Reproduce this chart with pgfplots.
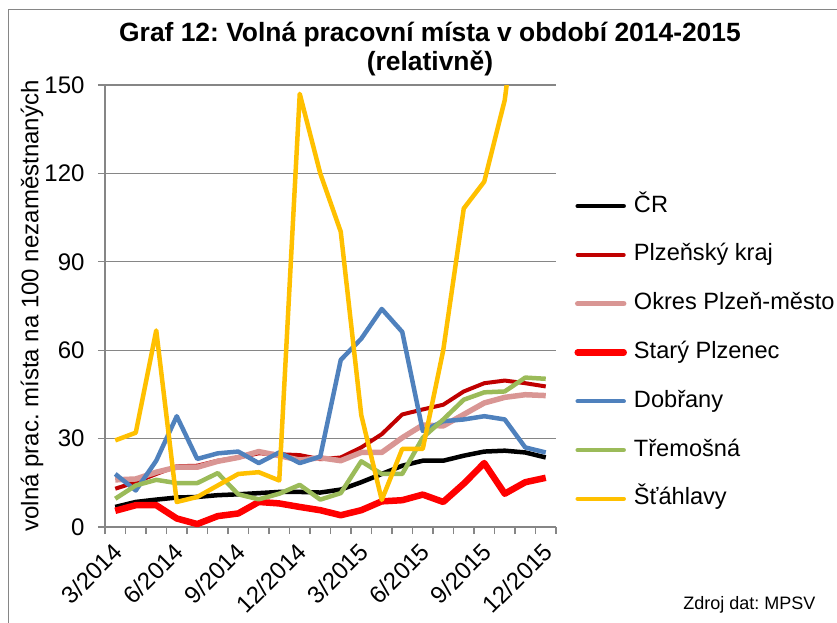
\documentclass[border=0pt]{standalone}
\usepackage{pgfplots}
\pgfplotsset{compat=1.18}
\usepackage{fontspec}
\setmainfont{Liberation Sans}
\frenchspacing
\definecolor{cgrid}{HTML}{868686}
\definecolor{cdred}{HTML}{C00000}
\definecolor{cpink}{HTML}{D99694}
\definecolor{cred}{HTML}{FF0000}
\definecolor{cblue}{HTML}{4F81BD}
\definecolor{cgreen}{HTML}{9BBB59}
\definecolor{cyellow}{HTML}{FFC000}
\pgfplotstableread{
i cr kraj okres stary dobrany tremosna stahlavy
0 6.8 13.0 16.0 5.5 18.0 9.6 29.4
1 8.5 15.2 16.3 7.4 12.4 14.1 32.0
2 9.3 18.0 18.6 7.4 22.5 16.0 66.7
3 10.0 20.6 20.3 2.9 37.6 14.9 8.5
4 10.2 20.8 20.3 1.0 23.1 14.9 10.2
5 10.8 22.5 22.3 3.7 25.0 18.3 14.1
6 11.1 23.6 23.6 4.6 25.6 11.1 18.0
7 11.5 25.0 25.6 8.5 21.7 9.4 18.6
8 11.9 24.7 24.2 8.0 25.3 11.3 15.8
9 11.9 24.4 22.7 6.8 21.7 14.3 147.0
10 11.7 23.0 23.5 5.7 23.9 9.3 120.0
11 12.7 23.6 22.5 4.0 56.7 11.5 100.2
12 15.2 27.0 25.3 5.7 63.9 22.3 38.0
13 18.0 31.5 25.3 8.7 74.0 18.0 9.2
14 20.8 38.2 30.3 9.1 66.2 18.0 26.5
15 22.5 39.9 34.6 11.0 32.6 30.3 26.5
16 22.5 41.5 34.3 8.5 35.9 36.5 60.0
17 24.2 46.0 38.2 14.7 36.5 43.2 108.1
18 25.6 48.8 42.1 21.7 37.6 45.7 117.2
19 25.9 49.7 44.0 11.3 36.5 46.0 144.9
20 25.3 48.8 44.9 15.2 27.0 50.7 200.0
21 23.6 47.7 44.6 16.7 25.3 50.3 210.0
}\datatable
\begin{document}
\begin{tikzpicture}
\useasboundingbox (0pt,0pt) rectangle (837pt,-623pt);
\draw[cgrid, line width=1.2pt] (8.5pt,-700pt) -- (8.5pt,-9.5pt) -- (900pt,-9.5pt);
\node[font=\bfseries\fontsize{26.4}{29.5}\selectfont, anchor=base] at (430pt,-41.7pt) {Graf 12: Volná pracovní místa v období 2014-2015};
\node[font=\bfseries\fontsize{26.4}{29.5}\selectfont, anchor=base] at (430pt,-71pt) {(relativně)};
\node[font=\fontsize{18}{21}\selectfont, anchor=base east] at (819pt,-609pt) {Zdroj dat: MPSV};
\begin{axis}[
 scale only axis, width=451pt, height=442pt,
 at={(105pt,-527pt)}, anchor=south west,
 xmin=-0.5, xmax=21.5, ymin=0, ymax=150,
 axis x line*=bottom, axis y line*=left,
 axis line style={cgrid, line width=1.3pt},
 ytick={0,30,...,150},
 ymajorgrids, grid style={cgrid, line width=1.3pt},
 xtick={-0.5,0.5,1.5,2.5,3.5,4.5,5.5,6.5,7.5,8.5,9.5,10.5,11.5,12.5,13.5,14.5,15.5,16.5,17.5,18.5,19.5,20.5,21.5},
 xticklabels={},
 extra x ticks={0,3,6,9,12,15,18,21},
 extra x tick labels={3/2014,6/2014,9/2014,12/2014,3/2015,6/2015,9/2015,12/2015},
 extra x tick style={major tick length=0pt, xticklabel style={xshift=5pt, yshift=-18pt, rotate=45, anchor=east}},
 tick align=outside, major tick length=7pt,
 tick style={cgrid, line width=1.3pt},
 ticklabel style={font=\fontsize{24}{28}\selectfont},
 yticklabel style={xshift=-10pt},
 /pgf/number format/assume math mode=true,
 ylabel={volná prac. místa na 100 nezaměstnaných},
 every axis y label/.style={at={(rel axis cs:-0.1619,0.5)}, rotate=90, anchor=center, font=\fontsize{24}{28}\selectfont},
 legend cell align=left,
 legend style={at={(1.0405,0.7515)}, anchor=north west, draw=none, fill=none, inner sep=0pt,
   font=\fontsize{23.6}{28}\selectfont, row sep=26.8pt,
   nodes={text height=17pt, text depth=5pt, inner sep=0pt}},
 legend image code/.code={\draw[#1, line cap=round] (0pt,0pt) -- (46pt,0pt); \path (53pt,0pt);},
 every axis plot/.append style={line join=round},
]
\addplot[black, line width=4.5pt] table[x=i, y=cr] {\datatable};
\addlegendentry{ČR}
\addplot[cdred, line width=4pt] table[x=i, y=kraj] {\datatable};
\addlegendentry{Plzeňský kraj}
\addplot[cpink, line width=5.5pt] table[x=i, y=okres] {\datatable};
\addlegendentry{Okres Plzeň-město}
\addplot[cred, line width=6.5pt] table[x=i, y=stary] {\datatable};
\addlegendentry{Starý Plzenec}
\addplot[cblue, line width=4.5pt] table[x=i, y=dobrany] {\datatable};
\addlegendentry{Dobřany}
\addplot[cgreen, line width=4.5pt] table[x=i, y=tremosna] {\datatable};
\addlegendentry{Třemošná}
\addplot[cyellow, line width=4.5pt] table[x=i, y=stahlavy] {\datatable};
\addlegendentry{Šťáhlavy}
\end{axis}
\end{tikzpicture}
\end{document}
